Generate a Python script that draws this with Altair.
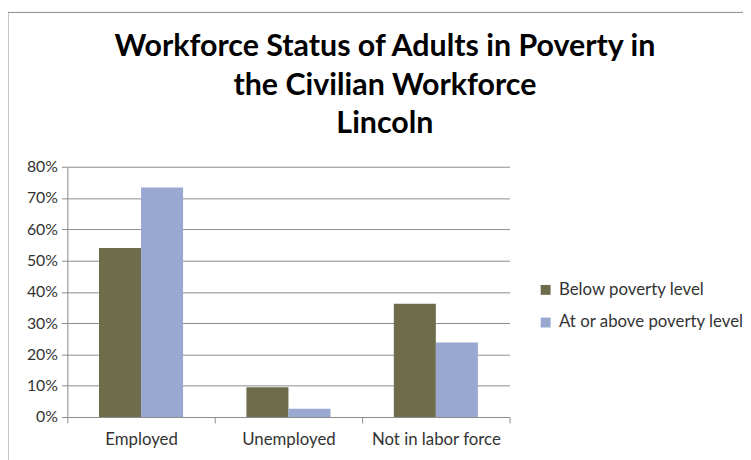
import altair as alt
import pandas as pd

categories = ["Employed", "Unemployed", "Not in labor force"]
series = ["Below poverty level", "At or above poverty level"]
below_values = [0.54, 0.095, 0.362]
above_values = [0.734, 0.026, 0.238]
y_tick_values = [0, 0.1, 0.2, 0.3, 0.4, 0.5, 0.6, 0.7, 0.8]
colors = ["#6E6C4B", "#98A8D0"]
title_lines = ["Workforce Status of Adults in Poverty in", "the Civilian Workforce", "Lincoln"]

rows = []
for c, b, a in zip(categories, below_values, above_values):
    rows.append({"category": c, "series": series[0], "value": b})
    rows.append({"category": c, "series": series[1], "value": a})
df = pd.DataFrame(rows)

FONT = "Lato"
TXT = "#333333"
GRID = "#8C8C8C"

bars = alt.Chart(df).mark_bar().encode(
    x=alt.X(
        "category:N",
        sort=categories,
        scale=alt.Scale(paddingInner=0, paddingOuter=0),
        axis=alt.Axis(
            title=None, labelAngle=0, tickBand="extent", grid=False,
            labelFont=FONT, labelFontSize=17, labelColor=TXT, labelPadding=9,
            domainColor=GRID, tickColor=GRID, tickSize=6,
        ),
    ),
    xOffset=alt.XOffset(
        "series:N", sort=series,
        scale=alt.Scale(paddingInner=0, paddingOuter=0.753),
    ),
    y=alt.Y(
        "value:Q",
        scale=alt.Scale(domain=[0, 0.8], nice=False),
        axis=alt.Axis(
            title=None, values=y_tick_values, format=".0%",
            labelFont=FONT, labelFontSize=16, labelColor=TXT, labelPadding=4,
            domainColor=GRID, tickColor=GRID, tickSize=6,
            gridColor=GRID, gridOpacity=1,
        ),
    ),
    color=alt.Color(
        "series:N", sort=series,
        scale=alt.Scale(domain=series, range=colors),
        legend=alt.Legend(
            title=None, orient="none", legendX=475, legendY=116,
            symbolType="square", symbolSize=100, symbolStrokeWidth=0,
            labelFont=FONT, labelFontSize=17, labelColor=TXT, labelLimit=300,
            labelOffset=5, rowPadding=15, padding=0,
        ),
    ),
)

frame_df = pd.DataFrame({"k": [0]})
left_border = alt.Chart(frame_df).mark_rule(color="#8A8A8A", strokeWidth=1).encode(
    x=alt.value(-60), y=alt.value(-156), y2=alt.value(300)
)
top_border = alt.Chart(frame_df).mark_rule(color="#8A8A8A", strokeWidth=1).encode(
    x=alt.value(-60), x2=alt.value(700), y=alt.value(-156)
)
title_text = alt.Chart(frame_df).mark_text(
    text=title_lines, font=FONT, fontSize=30.7, fontWeight="bold", color="#000000",
    lineHeight=39, align="center", baseline="alphabetic",
).encode(x=alt.value(321), y=alt.value(-112))

chart = alt.layer(bars, left_border, top_border, title_text).properties(
    width=447,
    height=253,
    autosize=alt.AutoSizeParams(type="none"),
    padding={"left": 60, "top": 158, "right": 236, "bottom": 41},
).configure_view(stroke=None)

chart.save("out.html", embed_options={"renderer": "svg", "actions": False})
